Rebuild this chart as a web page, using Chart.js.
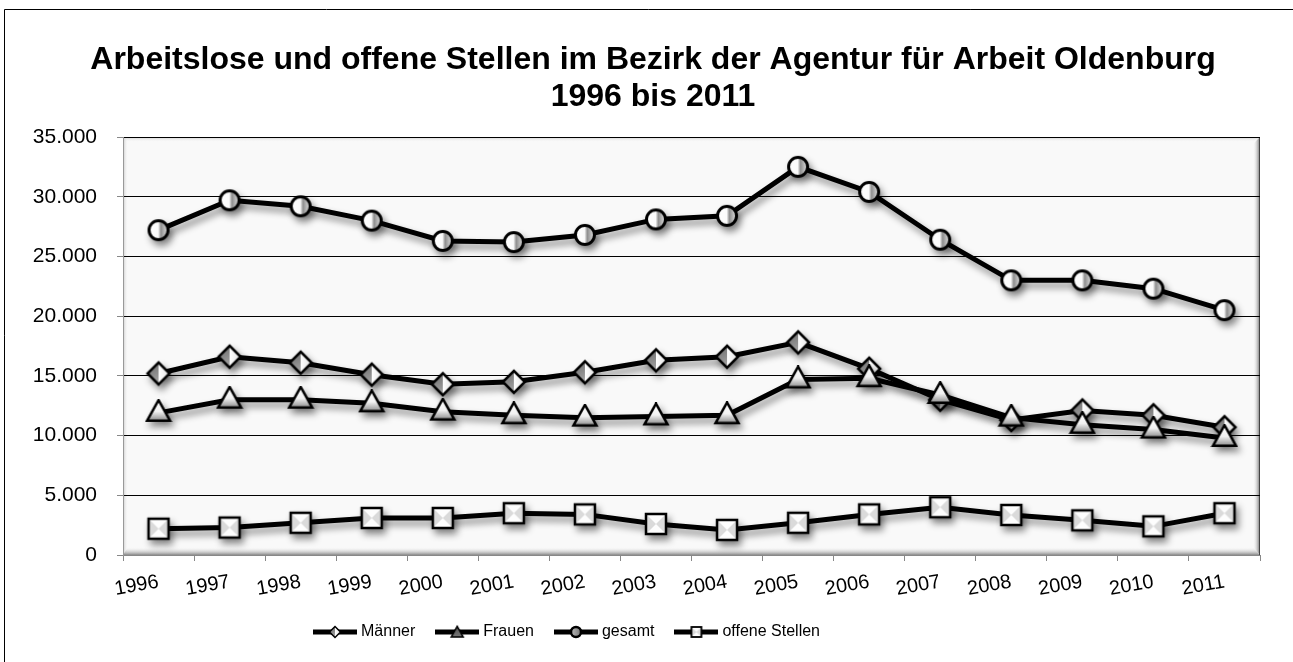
<!DOCTYPE html>
<html><head><meta charset="utf-8">
<script src="https://cdn.jsdelivr.net/npm/chart.js@4/dist/chart.umd.min.js"></script>
<style>html,body{margin:0;padding:0;background:#fff;overflow:hidden}
#wrap{width:1293px;height:662px;position:relative}</style>
</head><body><div id="wrap"><canvas id="c" width="1293" height="662"></canvas></div>
<script>
const titleLines = ['Arbeitslose und offene Stellen im Bezirk der Agentur für Arbeit Oldenburg', '1996 bis 2011'];
const years = ['1996','1997','1998','1999','2000','2001','2002','2003','2004','2005','2006','2007','2008','2009','2010','2011'];
const seriesNames = ['Männer','Frauen','gesamt','offene Stellen'];
const maenner = [15200,16600,16100,15100,14300,14500,15300,16300,16600,17800,15600,13000,11300,12100,11700,10700];
const frauen  = [11900,13000,13000,12700,12000,11700,11500,11600,11700,14700,14800,13400,11500,10900,10500,9800];
const gesamt  = [27200,29700,29200,28000,26300,26200,26800,28100,28400,32500,30400,26400,23000,23000,22300,20500];
const offene  = [2200,2300,2700,3100,3100,3500,3400,2600,2100,2700,3400,4000,3350,2900,2400,3500];
const yMin = 0, yMax = 35000, yStep = 5000;

function fmt(v){ return String(v).replace(/\B(?=(\d{3})+(?!\d))/g,'.'); }

function mk(w,h,draw){const c=document.createElement('canvas');c.width=w;c.height=h;const g=c.getContext('2d');draw(g,w,h);return c;}

function diamondPath(g,cx,cy,r){g.beginPath();g.moveTo(cx,cy-r);g.lineTo(cx+r,cy);g.lineTo(cx,cy+r);g.lineTo(cx-r,cy);g.closePath();}
function drawDiamond(g,cx,cy,r,lw){
  diamondPath(g,cx,cy,r);
  g.save(); g.clip();
  let gr=g.createLinearGradient(cx-r,cy-r,cx,cy+r); gr.addColorStop(0,'#6a6a6a'); gr.addColorStop(1,'#a8a8a8');
  g.fillStyle=gr; g.fillRect(cx-r,cy-r,r,2*r);
  gr=g.createLinearGradient(cx,0,cx+r,0); gr.addColorStop(0,'#ffffff'); gr.addColorStop(1,'#e4e4e4');
  g.fillStyle=gr; g.fillRect(cx,cy-r,r,2*r);
  g.restore();
  diamondPath(g,cx,cy,r); g.lineWidth=lw; g.strokeStyle='#000'; g.lineJoin='miter'; g.stroke();
}
function triPath(g,cx,cy,s){const h=s*0.9; g.beginPath(); g.moveTo(cx,cy-h*0.62); g.lineTo(cx+s/2,cy+h*0.38); g.lineTo(cx-s/2,cy+h*0.38); g.closePath(); return h;}
function drawTri(g,cx,cy,s,lw,dark){
  const h=triPath(g,cx,cy,s);
  const gr=g.createLinearGradient(0,cy-h*0.62,0,cy+h*0.38);
  if(dark){gr.addColorStop(0,'#555');gr.addColorStop(1,'#777');}
  else {gr.addColorStop(0,'#ffffff');gr.addColorStop(0.55,'#f2f2f2');gr.addColorStop(1,'#8c8c8c');}
  g.fillStyle=gr; g.fill(); g.lineWidth=lw; g.strokeStyle='#000'; g.lineJoin='miter'; g.stroke();
}
function drawCircle(g,cx,cy,r,lw,dark){
  g.beginPath(); g.arc(cx,cy,r,0,Math.PI*2);
  const gr=g.createLinearGradient(cx-r,0,cx+r,0);
  if(dark){gr.addColorStop(0,'#bbb');gr.addColorStop(1,'#777');}
  else {gr.addColorStop(0,'#ffffff');gr.addColorStop(0.48,'#fbfbfb');gr.addColorStop(0.62,'#8e8e8e');gr.addColorStop(1,'#e6e6e6');}
  g.fillStyle=gr; g.fill(); g.lineWidth=lw; g.strokeStyle='#000'; g.stroke();
}
function drawSquare(g,cx,cy,s,lw){
  const x0=cx-s/2,y0=cy-s/2;
  g.fillStyle='#fdfdfd'; g.fillRect(x0,y0,s,s);
  g.fillStyle='#dadada';
  g.beginPath(); g.moveTo(x0,y0); g.lineTo(cx,cy); g.lineTo(x0,y0+s); g.closePath(); g.fill();
  g.beginPath(); g.moveTo(x0+s,y0); g.lineTo(cx,cy); g.lineTo(x0+s,y0+s); g.closePath(); g.fill();
  g.lineWidth=lw; g.strokeStyle='#000'; g.strokeRect(x0,y0,s,s);
}

const mDiamond = mk(28,28,(g,w,h)=>drawDiamond(g,w/2,h/2,11,2.5));
const mTri     = mk(28,28,(g,w,h)=>drawTri(g,w/2,h/2,23,2.5,false));
const mCircle  = mk(26,26,(g,w,h)=>drawCircle(g,w/2,h/2,9.5,3,false));
const mSquare  = mk(26,26,(g,w,h)=>drawSquare(g,w/2,h/2,20,2.5));

function legendImg(drawMarker){
  return mk(44,16,(g,w,h)=>{ g.fillStyle='#000'; g.fillRect(0,h/2-2.5,w,5); drawMarker(g,w/2,h/2); });
}
const lDiamond = legendImg((g,x,y)=>drawDiamond(g,x,y,5.5,1.5));
const lTri     = legendImg((g,x,y)=>drawTri(g,x,y+1,12,1.5,true));
const lCircle  = legendImg((g,x,y)=>drawCircle(g,x,y,5,2.5,true));
const lSquare  = legendImg((g,x,y)=>drawSquare(g,x,y,10,1.8));
const legendImgs = [lDiamond,lTri,lCircle,lSquare];

const bgPlugin = {
  id:'bg',
  beforeDraw(chart){
    const ctx=chart.ctx, a=chart.chartArea;
    ctx.save();
    ctx.fillStyle='#fff'; ctx.fillRect(0,0,chart.width,chart.height);
    ctx.strokeStyle='#000'; ctx.lineWidth=1;
    ctx.beginPath(); ctx.moveTo(4.5,chart.height); ctx.lineTo(4.5,9.5); ctx.lineTo(chart.width,9.5); ctx.stroke();
    const L=a.left,T=a.top,R=a.right,B=a.bottom;
    ctx.fillStyle='#f9f9f9'; ctx.fillRect(L,T,R-L,B-T);
    let g;
    g=ctx.createLinearGradient(0,T,0,T+5); g.addColorStop(0,'#cfcfcf'); g.addColorStop(1,'rgba(249,249,249,0)');
    ctx.fillStyle=g; ctx.fillRect(L,T,R-L,5);
    g=ctx.createLinearGradient(L,0,L+5,0); g.addColorStop(0,'#c8c8c8'); g.addColorStop(1,'rgba(249,249,249,0)');
    ctx.fillStyle=g; ctx.fillRect(L,T,5,B-T);
    g=ctx.createLinearGradient(R-7,0,R,0); g.addColorStop(0,'rgba(249,249,249,0)'); g.addColorStop(1,'#6e6e6e');
    ctx.fillStyle=g; ctx.beginPath(); ctx.moveTo(R,T); ctx.lineTo(R,B); ctx.lineTo(R-7,B-8); ctx.lineTo(R-7,T+7); ctx.closePath(); ctx.fill();
    g=ctx.createLinearGradient(0,B-8,0,B); g.addColorStop(0,'rgba(249,249,249,0)'); g.addColorStop(1,'#8a8a8a');
    ctx.fillStyle=g; ctx.beginPath(); ctx.moveTo(L,B); ctx.lineTo(R,B); ctx.lineTo(R-7,B-8); ctx.lineTo(L+5,B-8); ctx.closePath(); ctx.fill();
    ctx.strokeStyle='#444'; ctx.beginPath(); ctx.moveTo(R-0.5,T); ctx.lineTo(R-0.5,B); ctx.stroke();
    ctx.restore();
  }
};
const shadowPlugin = {
  id:'shadow',
  beforeDatasetDraw(chart){const c=chart.ctx; c.save(); c.shadowColor='rgba(0,0,0,0.45)'; c.shadowBlur=7; c.shadowOffsetX=3; c.shadowOffsetY=5;},
  afterDatasetDraw(chart){chart.ctx.restore();}
};
const placePlugin = {
  id:'place',
  afterLayout(chart){
    const T=chart.titleBlock; if(T){ const w=T.right-T.left; const c=653; T.left=c-w/2; T.right=c+w/2; }
    const Lg=chart.legend; if(Lg){ const h=Lg.height; Lg.left=293; Lg.right=chart.width; Lg.top=600; Lg.bottom=600+h; }
  }
};

function ds(label,data,img,order){
  return {label,data,borderColor:'#000',backgroundColor:'#000',borderWidth:5,tension:0,
    pointStyle:img,pointRadius:10,pointHoverRadius:10,order,clip:false};
}

new Chart(document.getElementById('c'),{
  type:'line',
  data:{labels:years,datasets:[
    ds(seriesNames[0],maenner,mDiamond,4),
    ds(seriesNames[1],frauen,mTri,3),
    ds(seriesNames[2],gesamt,mCircle,2),
    ds(seriesNames[3],offene,mSquare,1)
  ]},
  options:{
    responsive:false,animation:false,events:[],
    layout:{padding:{left:4,right:33,top:0,bottom:0}},
    plugins:{
      title:{display:true,text:titleLines,color:'#000',font:{family:'Liberation Sans',size:32,weight:'bold',lineHeight:1.15},padding:{top:42,bottom:21.4}},
      legend:{position:'bottom',align:'start',
        labels:{usePointStyle:true,pointStyleWidth:36,padding:24,color:'#000',font:{family:'Liberation Sans',size:16},
          sort:(a,b)=>a.datasetIndex-b.datasetIndex,
          generateLabels:(chart)=>chart.data.datasets.map((d,i)=>({text:d.label,datasetIndex:i,pointStyle:legendImgs[i],fillStyle:'#000',strokeStyle:'#000',lineWidth:0,hidden:false,fontColor:'#000'}))}},
      tooltip:{enabled:false}
    },
    scales:{
      x:{offset:true,
        grid:{offset:true,drawOnChartArea:false,drawTicks:true,tickLength:6,tickColor:'#888',color:'#888'},
        border:{color:'#888'},
        ticks:{autoSkip:false,minRotation:10,maxRotation:10,padding:9,color:'#000',font:{family:'Liberation Sans',size:20}},
        afterFit(s){s.height=57;}
      },
      y:{min:yMin,max:yMax,
        grid:{color:(c)=>c.tick&&c.tick.value===0?'#888':'#000',lineWidth:1,tickLength:6,tickColor:'#888'},
        border:{color:'#999'},
        ticks:{stepSize:yStep,padding:20,color:'#000',font:{family:'Liberation Sans',size:21},callback:(v)=>fmt(v)},
        afterFit(s){s.width=119;}
      }
    }
  },
  plugins:[bgPlugin,shadowPlugin,placePlugin]
});
</script></body></html>
